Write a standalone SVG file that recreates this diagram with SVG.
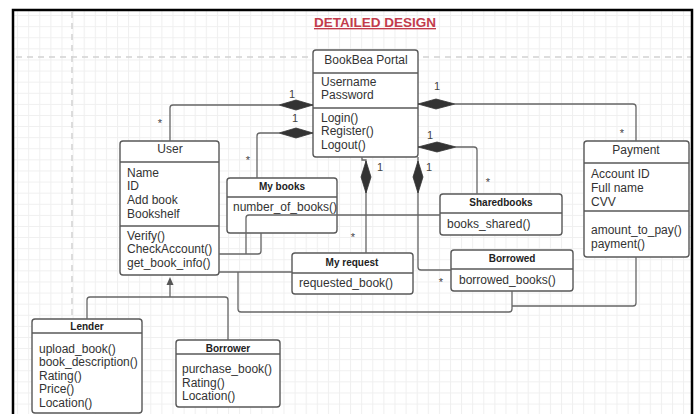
<svg xmlns="http://www.w3.org/2000/svg" width="699" height="414" viewBox="0 0 699 414">
<defs>
<pattern id="grid" x="6" y="4" width="11.1" height="11.1" patternUnits="userSpaceOnUse">
<path d="M0 0.5 H11.1 M0.5 0 V11.1" fill="none" stroke="#efefef" stroke-width="1"/>
</pattern>
<style>
.box{fill:#fff;stroke:#585858;stroke-width:1.4}
.div{stroke:#585858;stroke-width:1.3}
.t{font-family:"Liberation Sans",Arial,sans-serif;font-size:12px;fill:#333}
.c{text-anchor:middle}
.b{font-family:"Liberation Sans",Arial,sans-serif;font-size:10px;font-weight:bold;fill:#222;text-anchor:middle}
.ln{fill:none;stroke:#666;stroke-width:1.3}
.dm{fill:#333;stroke:#333;stroke-width:0.8}
.lb{font-family:"Liberation Sans",Arial,sans-serif;font-size:11px;fill:#444;text-anchor:middle}
.dash{stroke:#d2d2d2;stroke-width:1.5;stroke-dasharray:6 5;fill:none}
</style>
</defs>
<rect width="699" height="414" fill="#fff"/>
<rect x="13" y="10" width="679" height="410" fill="url(#grid)"/>
<path class="dash" d="M16 57 H692"/>
<path class="dash" d="M72 12 V392"/>
<rect x="13" y="10" width="679" height="420" fill="none" stroke="#000" stroke-width="2.5"/>
<g id="title">
<text x="375" y="27" font-family="'Liberation Sans',Arial,sans-serif" font-size="13.5" font-weight="bold" fill="#c23b4b" text-anchor="middle" text-decoration="underline">DETAILED DESIGN</text>
</g>
<g id="portal">
<rect class="box" x="313" y="50" width="105" height="107" rx="3"/>
<line class="div" x1="313" y1="73" x2="418" y2="73"/>
<line class="div" x1="313" y1="108" x2="418" y2="108"/>
<text class="t c" x="366" y="64">BookBea Portal</text>
<text class="t" x="321" y="86">Username</text>
<text class="t" x="321" y="99">Password</text>
<text class="t" x="321" y="122">Login()</text>
<text class="t" x="321" y="135">Register()</text>
<text class="t" x="321" y="149">Logout()</text>
</g>
<g id="user">
<rect class="box" x="120" y="141" width="99" height="134" rx="3"/>
<line class="div" x1="120" y1="162" x2="219" y2="162"/>
<line class="div" x1="120" y1="226" x2="219" y2="226"/>
<text class="t c" x="170" y="153">User</text>
<text class="t" x="127" y="177">Name</text>
<text class="t" x="127" y="190">ID</text>
<text class="t" x="127" y="204">Add book</text>
<text class="t" x="127" y="217.5">Bookshelf</text>
<text class="t" x="127" y="240">Verify()</text>
<text class="t" x="127" y="253">CheckAccount()</text>
<text class="t" x="127" y="267">get_book_info()</text>
</g>
<g id="payment">
<rect class="box" x="584" y="141" width="105" height="116" rx="3"/>
<line class="div" x1="584" y1="163" x2="689" y2="163"/>
<line class="div" x1="584" y1="211" x2="689" y2="211"/>
<text class="t c" x="636" y="153.5">Payment</text>
<text class="t" x="591" y="177.5">Account ID</text>
<text class="t" x="591" y="192">Full name</text>
<text class="t" x="591" y="206">CVV</text>
<text class="t" x="591" y="233.5">amount_to_pay()</text>
<text class="t" x="591" y="247.5">payment()</text>
</g>
<g id="mybooks">
<rect class="box" x="227" y="178" width="110" height="55" rx="3"/>
<line class="div" x1="227" y1="197" x2="337" y2="197"/>
<text class="b" x="282" y="190">My books</text>
<text class="t" x="233" y="211">number_of_books()</text>
</g>
<g id="myrequest">
<rect class="box" x="292" y="253" width="121" height="41" rx="3"/>
<line class="div" x1="292" y1="273" x2="413" y2="273"/>
<text class="b" x="352" y="266">My request</text>
<text class="t" x="299" y="287">requested_book()</text>
</g>
<g id="sharedbooks">
<rect class="box" x="440" y="194" width="122" height="41" rx="3"/>
<line class="div" x1="440" y1="213" x2="562" y2="213"/>
<text class="b" x="501" y="206">Sharedbooks</text>
<text class="t" x="447" y="227.5">books_shared()</text>
</g>
<g id="borrowed">
<rect class="box" x="451" y="250" width="122" height="41" rx="3"/>
<line class="div" x1="451" y1="269" x2="573" y2="269"/>
<text class="b" x="512" y="262">Borrowed</text>
<text class="t" x="459" y="283.5">borrowed_books()</text>
</g>
<g id="lender">
<rect class="box" x="32" y="319" width="110" height="94" rx="3"/>
<line class="div" x1="32" y1="333" x2="142" y2="333"/>
<text class="b" x="87" y="330">Lender</text>
<text class="t" x="39" y="353">upload_book()</text>
<text class="t" x="39" y="366">book_description()</text>
<text class="t" x="39" y="379.5">Rating()</text>
<text class="t" x="39" y="393">Price()</text>
<text class="t" x="39" y="406.5">Location()</text>
</g>
<g id="borrower">
<rect class="box" x="176" y="340" width="104" height="67" rx="3"/>
<line class="div" x1="176" y1="354" x2="280" y2="354"/>
<text class="b" x="228" y="352">Borrower</text>
<text class="t" x="182" y="373">purchase_book()</text>
<text class="t" x="182" y="386.5">Rating()</text>
<text class="t" x="182" y="400">Location()</text>
</g>
<g id="connectors">
<path class="ln" d="M170 141 V108 Q170 105 173 105 H279"/>
<polygon class="dm" points="313,105 296,100 279,105 296,110"/>
<path class="ln" d="M257 178 V136 Q257 133 260 133 H279"/>
<polygon class="dm" points="313,133 296,128 279,133 296,138"/>
<path class="ln" d="M455 104 H633 Q636 104 636 107 V141"/>
<polygon class="dm" points="418,104 436,99 455,104 436,109"/>
<path class="ln" d="M456 147 H474 Q477 147 477 150 V194"/>
<polygon class="dm" points="418,147 437,142 456,147 437,152"/>
<path class="ln" d="M362 157 V160 H366 V253"/>
<polygon class="dm" points="366,161 371,177 366,193 361,177"/>
<path class="ln" d="M418 157 V267 Q418 270 421 270 H451"/>
<polygon class="dm" points="418,161 423,177 418,193 413,177"/>
<path class="ln" d="M170 285 V297 M87 319 V300 Q87 297 90 297 H225 Q228 297 228 300 V340"/>
<polygon points="170,277 173.5,285 166.5,285" fill="#555"/>
<path class="ln" d="M219 254 H258 Q261 254 261 251 V233"/>
<path class="ln" d="M246 254 V218 Q246 215 249 215 H440"/>
<path class="ln" d="M219 272 H292"/>
<path class="ln" d="M238 272 V309 Q238 312 241 312 H509 Q512 312 512 309 V291"/>
<path class="ln" d="M636 257 V303 Q636 306 633 306 H512"/>
<text class="lb" x="292" y="98">1</text>
<text class="lb" x="160" y="127">*</text>
<text class="lb" x="295" y="122">1</text>
<text class="lb" x="248" y="164">*</text>
<text class="lb" x="437" y="90">1</text>
<text class="lb" x="622" y="137">*</text>
<text class="lb" x="430" y="139">1</text>
<text class="lb" x="488" y="186">*</text>
<text class="lb" x="380" y="171">1</text>
<text class="lb" x="429" y="171">1</text>
<text class="lb" x="353" y="241">*</text>
<text class="lb" x="441" y="286">*</text>
</g>
</svg>
